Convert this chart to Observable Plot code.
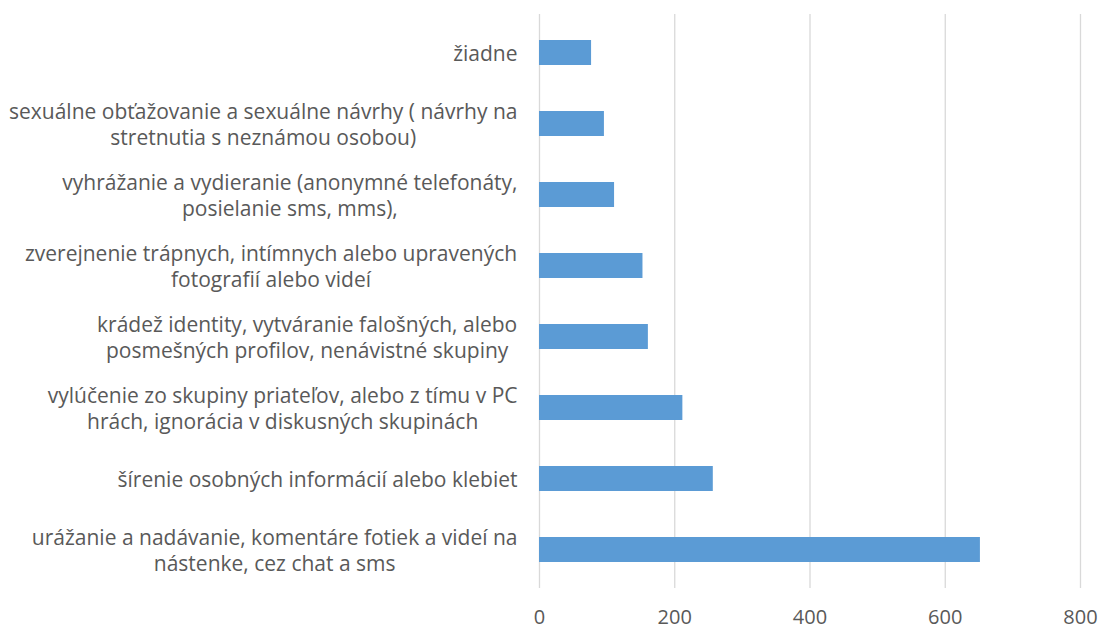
<!DOCTYPE html>
<html>
<head>
<meta charset="utf-8">
<script src="https://cdn.jsdelivr.net/npm/d3@7"></script>
<script src="https://cdn.jsdelivr.net/npm/@observablehq/plot@0.6"></script>
<style>
  html, body { margin: 0; padding: 0; background: #ffffff; }
  #chart { width: 1101px; height: 630px; }
</style>
</head>
<body>
<div id="chart"></div>
<script>
const categories = [
  "žiadne",
  "sexuálne obťažovanie a sexuálne návrhy ( návrhy na\nstretnutia s neznámou osobou)",
  "vyhrážanie a vydieranie (anonymné telefonáty,\nposielanie sms, mms),",
  "zverejnenie trápnych, intímnych alebo upravených\nfotografií alebo videí",
  "krádež identity, vytváranie falošných, alebo\nposmešných profilov, nenávistné skupiny",
  "vylúčenie zo skupiny priateľov, alebo z tímu v PC\nhrách, ignorácia v diskusných skupinách",
  "šírenie osobných informácií alebo klebiet",
  "urážanie a nadávanie, komentáre fotiek a videí na\nnástenke, cez chat a sms"
];
const values = [77, 96, 111, 153, 161, 212, 257, 652];
const xTicks = [0, 200, 400, 600, 800];

const data = categories.map((c, i) => ({category: c, value: values[i]}));

const FONT = "'Open Sans', Lato, sans-serif";
const TEXT = "#595959";

const chart = Plot.plot({
  width: 1101,
  height: 630,
  marginLeft: 539,
  marginRight: 21,
  marginTop: 14,
  marginBottom: 42,
  style: {fontFamily: FONT, color: TEXT, background: "#ffffff", overflow: "visible"},
  x: {domain: [0, 800], ticks: xTicks},
  y: {domain: categories, paddingInner: 0.65, paddingOuter: 0.325},
  marks: [
    Plot.gridX(xTicks, {stroke: "#d9d9d9", strokeOpacity: 1, strokeWidth: 1.3}),
    Plot.barX(data, {x: "value", y: "category", fill: "#5b9bd5"}),
    Plot.axisX(xTicks, {tickSize: 0, tickPadding: 21, fontSize: 20, fill: TEXT, label: null}),
    Plot.axisY({tickSize: 0, tickPadding: 22, fontSize: 21, lineHeight: 1.24, fill: TEXT, label: null, tickFormat: d => d, textOverflow: null, lineWidth: Infinity})
  ]
});

document.getElementById("chart").appendChild(chart);

// Excel-style wrapped category labels: block right-aligned, lines centred within the block
const yTexts = chart.querySelectorAll("g[aria-label='y-axis tick label'] text");
yTexts.forEach(t => {
  const w = t.getBBox().width;
  t.setAttribute("text-anchor", "middle");
  const tr = t.getAttribute("transform") || "";
  t.setAttribute("transform", tr + ` translate(${-w / 2},0)`);
});
</script>
</body>
</html>
